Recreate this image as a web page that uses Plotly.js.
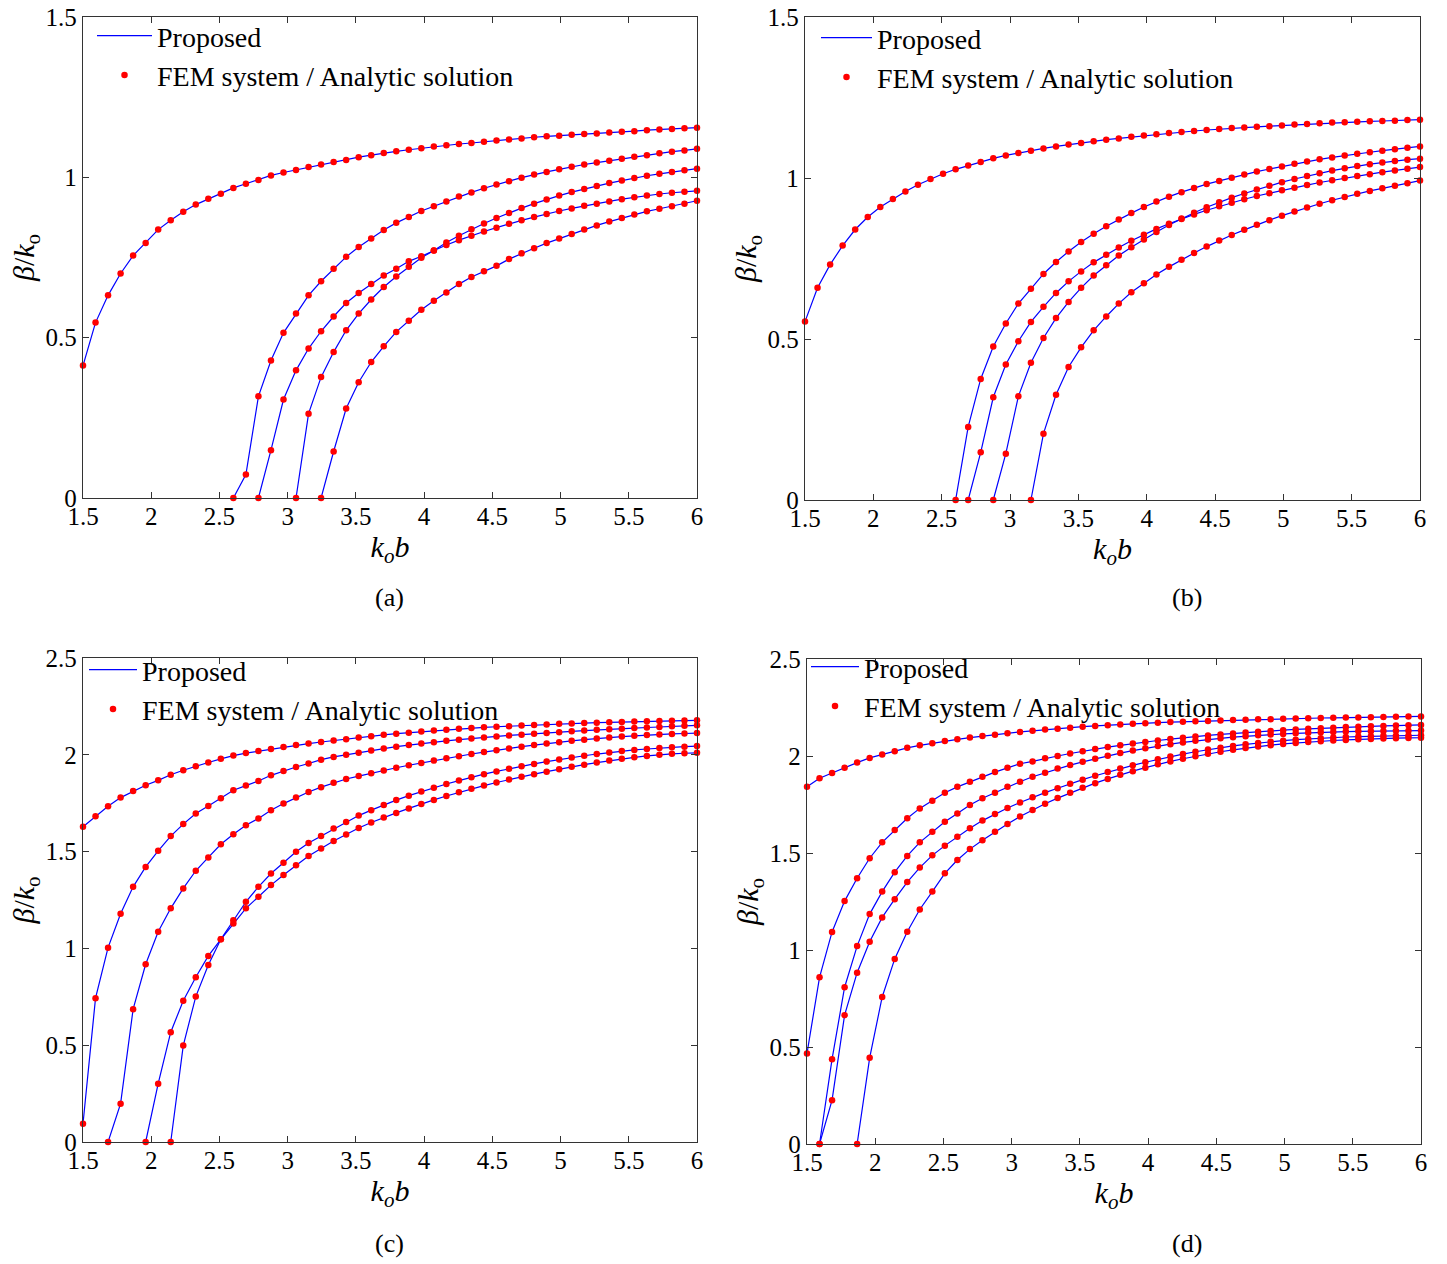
<!DOCTYPE html>
<html><head><meta charset="utf-8">
<script src="https://cdn.plot.ly/plotly-3.0.1.min.js"></script>
<style>html,body{margin:0;padding:0;background:#fff}#chart{width:1447px;height:1264px}</style>
</head><body><div id="chart"></div>
<script>
// common k_o b sample grid (50 points from 1.5 to 6)
const kb = [1.5, 1.5918, 1.6837, 1.7755, 1.8673, 1.9592, 2.051, 2.1429, 2.2347, 2.3265,
 2.4184, 2.5102, 2.602, 2.6939, 2.7857, 2.8776, 2.9694, 3.0612, 3.1531, 3.2449,
 3.3367, 3.4286, 3.5204, 3.6122, 3.7041, 3.7959, 3.8878, 3.9796, 4.0714, 4.1633,
 4.2551, 4.3469, 4.4388, 4.5306, 4.6224, 4.7143, 4.8061, 4.898, 4.9898, 5.0816,
 5.1735, 5.2653, 5.3571, 5.449, 5.5408, 5.6327, 5.7245, 5.8163, 5.9082, 6];

// Each mode curve lists beta/k_o from its cutoff point to k_o b = 6
// (a)
const a1 = [0.413,0.547,0.632,0.700,0.756,0.795,0.837,0.866,0.893,0.915,
 0.933,0.949,0.967,0.980,0.992,1.006,1.015,1.023,1.032,1.040,
 1.048,1.054,1.063,1.069,1.076,1.081,1.086,1.091,1.096,1.100,
 1.104,1.107,1.111,1.115,1.118,1.121,1.125,1.128,1.130,1.133,
 1.135,1.137,1.140,1.142,1.144,1.147,1.149,1.151,1.153,1.155];
const a2 = [0,0.073,0.317,0.429,0.515,0.575,0.632,0.676,0.715,0.752,
 0.783,0.809,0.836,0.858,0.876,0.895,0.910,0.925,0.940,0.953,
 0.966,0.978,0.988,0.999,1.009,1.017,1.025,1.033,1.040,1.046,
 1.052,1.058,1.064,1.069,1.075,1.080,1.084,1.089];
const a3 = [0,0.149,0.307,0.398,0.466,0.520,0.566,0.608,0.639,0.667,
 0.694,0.715,0.738,0.754,0.772,0.789,0.804,0.818,0.831,0.843,
 0.855,0.866,0.876,0.886,0.895,0.903,0.911,0.918,0.925,0.932,
 0.938,0.943,0.948,0.952,0.955,0.958];
const a4 = [0,0.263,0.377,0.455,0.523,0.575,0.619,0.658,0.691,0.721,
 0.749,0.772,0.797,0.818,0.838,0.856,0.873,0.889,0.904,0.918,
 0.931,0.943,0.954,0.964,0.973,0.982,0.990,0.998,1.005,1.011,
 1.017,1.022,1.027];
const a5 = [0,0.145,0.279,0.361,0.424,0.473,0.518,0.553,0.587,0.615,
 0.641,0.667,0.689,0.707,0.724,0.745,0.763,0.779,0.795,0.809,
 0.823,0.837,0.850,0.862,0.873,0.884,0.894,0.902,0.910,0.918,0.927];
// (b)
const b1 = [0.554,0.659,0.731,0.790,0.840,0.879,0.910,0.935,0.958,0.979,
 0.997,1.013,1.027,1.039,1.050,1.061,1.070,1.078,1.085,1.092,
 1.098,1.104,1.109,1.114,1.119,1.123,1.128,1.132,1.136,1.140,
 1.143,1.146,1.149,1.152,1.155,1.157,1.159,1.161,1.163,1.166,
 1.168,1.170,1.172,1.173,1.175,1.176,1.177,1.178,1.180,1.181];
const b2 = [0,0.227,0.376,0.477,0.548,0.610,0.656,0.702,0.739,0.772,
 0.801,0.827,0.850,0.871,0.891,0.910,0.927,0.942,0.956,0.969,
 0.981,0.991,1.001,1.011,1.020,1.028,1.036,1.044,1.051,1.058,
 1.064,1.070,1.075,1.080,1.085,1.089,1.094,1.098];
const b3 = [0,0.148,0.319,0.421,0.493,0.553,0.600,0.643,0.679,0.710,
 0.738,0.762,0.784,0.805,0.824,0.842,0.858,0.873,0.887,0.900,
 0.912,0.923,0.934,0.944,0.953,0.962,0.970,0.978,0.986,0.993,
 1.000,1.006,1.012,1.018,1.023,1.029,1.034];
const b4 = [0,0.144,0.322,0.426,0.503,0.565,0.615,0.659,0.697,0.729,
 0.759,0.785,0.809,0.832,0.854,0.874,0.892,0.909,0.925,0.939,
 0.952,0.964,0.976,0.987,0.997,1.006,1.015,1.023,1.030,1.037,
 1.043,1.048,1.053,1.057,1.060];
const b5 = [0,0.206,0.327,0.413,0.474,0.527,0.570,0.610,0.645,0.673,
 0.700,0.724,0.746,0.767,0.787,0.806,0.823,0.839,0.855,0.869,
 0.883,0.896,0.908,0.920,0.931,0.941,0.951,0.960,0.968,0.976,
 0.984,0.992];
// (c)
const c1 = [1.628,1.683,1.734,1.779,1.813,1.843,1.868,1.897,1.920,1.941,
 1.960,1.979,1.996,2.009,2.019,2.030,2.040,2.050,2.058,2.066,
 2.074,2.080,2.089,2.096,2.103,2.109,2.114,2.120,2.125,2.130,
 2.134,2.138,2.142,2.145,2.148,2.151,2.154,2.157,2.160,2.162,
 2.164,2.166,2.168,2.170,2.172,2.173,2.175,2.176,2.177,2.178];
const c2 = [0.094,0.743,1.004,1.179,1.318,1.421,1.504,1.580,1.642,1.697,
 1.736,1.776,1.817,1.841,1.865,1.894,1.916,1.937,1.955,1.975,
 1.989,2.000,2.011,2.022,2.033,2.042,2.050,2.058,2.065,2.072,
 2.078,2.084,2.090,2.095,2.100,2.104,2.109,2.113,2.117,2.121,
 2.125,2.129,2.132,2.135,2.138,2.141,2.144,2.147,2.150,2.152];
const c3 = [0,0.198,0.686,0.918,1.086,1.207,1.310,1.401,1.470,1.538,
 1.590,1.636,1.671,1.714,1.748,1.779,1.808,1.833,1.856,1.875,
 1.890,1.905,1.919,1.933,1.946,1.958,1.970,1.982,1.993,2.004,
 2.014,2.024,2.033,2.042,2.050,2.058,2.065,2.072,2.078,2.084,
 2.089,2.094,2.098,2.102,2.105,2.108,2.110,2.112];
const c4 = [0,0.301,0.567,0.730,0.851,0.961,1.047,1.129,1.207,1.267,
 1.327,1.379,1.430,1.477,1.516,1.555,1.588,1.622,1.650,1.676,
 1.700,1.723,1.746,1.767,1.787,1.806,1.824,1.841,1.857,1.872,
 1.887,1.900,1.913,1.926,1.938,1.949,1.960,1.970,1.979,1.987,
 1.994,2.000,2.005,2.008,2.010];
const c5 = [0,0.498,0.751,0.914,1.047,1.146,1.241,1.318,1.387,1.442,
 1.499,1.545,1.580,1.619,1.653,1.686,1.714,1.741,1.766,1.789,
 1.810,1.830,1.849,1.867,1.884,1.900,1.914,1.928,1.941,1.953,
 1.965,1.976,1.986,1.995,2.004,2.012,2.019,2.025,2.030,2.035,
 2.039,2.042,2.045];
// (d)
const d1 = [1.841,1.885,1.912,1.940,1.966,1.990,2.008,2.025,2.042,2.055,
 2.066,2.077,2.086,2.095,2.103,2.110,2.117,2.124,2.130,2.136,
 2.141,2.146,2.151,2.155,2.159,2.163,2.166,2.169,2.172,2.175,
 2.177,2.179,2.181,2.183,2.185,2.187,2.189,2.190,2.192,2.193,
 2.195,2.196,2.197,2.198,2.199,2.200,2.201,2.202,2.203,2.204];
const d2 = [0.467,0.859,1.093,1.252,1.370,1.473,1.555,1.618,1.679,1.730,
 1.769,1.811,1.841,1.867,1.893,1.917,1.939,1.960,1.972,1.988,
 2.000,2.013,2.025,2.036,2.046,2.055,2.064,2.072,2.080,2.087,
 2.094,2.100,2.106,2.111,2.116,2.121,2.125,2.129,2.133,2.137,
 2.140,2.143,2.146,2.149,2.151,2.153,2.155,2.157,2.158,2.160];
const d3 = [0,0.437,0.808,1.020,1.185,1.301,1.401,1.485,1.555,1.610,
 1.661,1.704,1.747,1.782,1.811,1.841,1.867,1.893,1.914,1.936,
 1.953,1.970,1.986,2.001,2.015,2.028,2.040,2.051,2.061,2.070,
 2.078,2.085,2.091,2.097,2.102,2.107,2.111,2.114,2.117,2.120,
 2.122,2.124,2.126,2.127,2.128,2.129,2.130,2.130,2.131];
const d4 = [0,0.226,0.664,0.883,1.043,1.168,1.262,1.350,1.425,1.488,
 1.538,1.584,1.627,1.667,1.701,1.732,1.760,1.787,1.811,1.834,
 1.857,1.878,1.898,1.917,1.935,1.952,1.968,1.983,1.997,2.010,
 2.022,2.033,2.043,2.052,2.060,2.067,2.073,2.079,2.084,2.088,
 2.092,2.095,2.098,2.100,2.102,2.104,2.105,2.106,2.107];
const d5 = [0,0.444,0.758,0.954,1.094,1.209,1.301,1.395,1.464,1.520,
 1.566,1.610,1.650,1.688,1.722,1.754,1.783,1.810,1.836,1.860,
 1.882,1.903,1.922,1.940,1.957,1.972,1.986,1.999,2.011,2.022,
 2.032,2.041,2.049,2.056,2.062,2.067,2.072,2.076,2.080,2.083,
 2.086,2.088,2.090,2.092,2.093,2.094];

const xTicks = [1.5, 2, 2.5, 3, 3.5, 4, 4.5, 5, 5.5, 6];
const yTicksAB = [0, 0.5, 1, 1.5];
const yTicksCD = [0, 0.5, 1, 1.5, 2, 2.5];
const panelLabels = ['(a)', '(b)', '(c)', '(d)'];
const lineName = 'Proposed';
const dotName = 'FEM system / Analytic solution';

const FONT = 'Liberation Serif, Times New Roman, serif';
const panels = [
  {curves:[a1,a2,a3,a4,a5], xa:'x',  ya:'y',  lg:'legend'},
  {curves:[b1,b2,b3,b4,b5], xa:'x2', ya:'y2', lg:'legend2'},
  {curves:[c1,c2,c3,c4,c5], xa:'x3', ya:'y3', lg:'legend3'},
  {curves:[d1,d2,d3,d4,d5], xa:'x4', ya:'y4', lg:'legend4'}
];
const traces = [];
panels.forEach(p => {
  p.curves.forEach((c, ci) => {
    traces.push({x: kb.slice(kb.length - c.length), y: c, xaxis: p.xa, yaxis: p.ya,
      mode: 'lines', line: {color: '#0000ff', width: 1.2}, name: lineName,
      legend: p.lg, showlegend: ci === 0, legendrank: 1, hoverinfo: 'skip'});
  });
  p.curves.forEach((c, ci) => {
    traces.push({x: kb.slice(kb.length - c.length), y: c, xaxis: p.xa, yaxis: p.ya,
      mode: 'markers', marker: {color: '#ff0000', size: 6.5, symbol: 'circle'},
      name: dotName, legend: p.lg, showlegend: ci === 0, legendrank: 2, cliponaxis: false});
  });
});

function xax(domain, anchor) {
  return {domain, anchor, range: [1.5, 6], tickvals: xTicks, ticks: 'inside', ticklen: 6,
    tickcolor: '#333', linecolor: '#333', linewidth: 1.2, mirror: 'ticks', showgrid: false,
    zeroline: false, ticklabelstandoff: -4, tickfont: {family: FONT, size: 25, color: '#000'},
    title: {text: '<i>k<sub>o</sub>b</i>', font: {family: FONT, size: 30, color: '#000'}, standoff: 6}};
}
function yax(domain, anchor, range, tv) {
  return {domain, anchor, range, tickvals: tv, ticks: 'inside', ticklen: 6,
    tickcolor: '#333', linecolor: '#333', linewidth: 1.2, mirror: 'ticks', showgrid: false,
    zeroline: false, tickfont: {family: FONT, size: 25, color: '#000'},
    title: {text: '<i>β</i>/<i>k</i><sub>o</sub>', font: {family: FONT, size: 30, color: '#000'}, standoff: 2}};
}
const W = 1447, H = 1264;
const px = v => v / W, py = v => 1 - v / H;
function legendAt(x, y, iw) {
  return {x: px(x), y: py(y), xanchor: 'left', yanchor: 'top', bgcolor: 'rgba(0,0,0,0)',
    font: {family: FONT, size: 28, color: '#000'}, itemwidth: iw, tracegroupgap: 0,
    traceorder: 'normal'};
}
const layout = {
  width: W, height: H, margin: {l: 0, r: 0, t: 0, b: 0},
  paper_bgcolor: '#fff', plot_bgcolor: '#fff', font: {family: FONT, color: '#000'},
  xaxis:  xax([px(83), px(697)], 'y'),
  yaxis:  yax([py(498), py(17)], 'x', [0, 1.5], yTicksAB),
  xaxis2: xax([px(805), px(1420)], 'y2'),
  yaxis2: yax([py(500), py(17)], 'x2', [0, 1.5], yTicksAB),
  xaxis3: xax([px(83), px(697)], 'y3'),
  yaxis3: yax([py(1142), py(658)], 'x3', [0, 2.5], yTicksCD),
  xaxis4: xax([px(807), px(1421)], 'y4'),
  yaxis4: yax([py(1144), py(659)], 'x4', [0, 2.5], yTicksCD),
  legend: legendAt(92, 11, 55),
  legend2: legendAt(816, 13, 51),
  legend3: legendAt(84, 645, 48),
  legend4: legendAt(806, 642, 48),
  showlegend: true,
  annotations: [
    {text: panelLabels[0], x: px(390), y: py(597)},
    {text: panelLabels[1], x: px(1187), y: py(597)},
    {text: panelLabels[2], x: px(390), y: py(1243)},
    {text: panelLabels[3], x: px(1187), y: py(1243)}
  ].map(a => Object.assign(a, {xref: 'paper', yref: 'paper', showarrow: false,
    xanchor: 'center', yanchor: 'middle', font: {family: FONT, size: 26, color: '#000'}}))
};
Plotly.newPlot('chart', traces, layout, {displayModeBar: false, staticPlot: true});
</script></body></html>
